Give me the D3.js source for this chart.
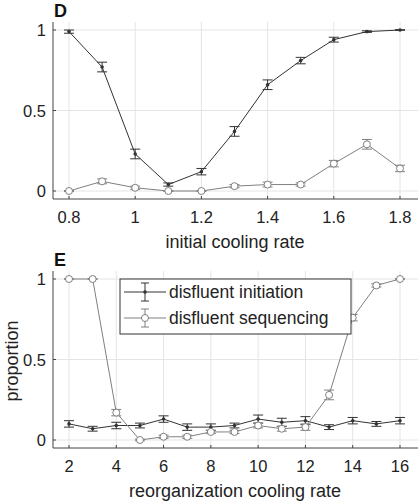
<!DOCTYPE html><html><head><script src="https://cdn.jsdelivr.net/npm/d3@7"></script>
<style>body{margin:0;background:#fff}text{font-family:"Liberation Sans",Arial,sans-serif}</style></head><body>
<svg id="c" width="420" height="502"></svg>
<script>
const xD=[0.8,0.9,1.0,1.1,1.2,1.3,1.4,1.5,1.6,1.7,1.8];
const initD=[0.99,0.77,0.23,0.04,0.12,0.37,0.66,0.81,0.94,0.99,1.0];
const initDErr=[0.01,0.03,0.03,0.01,0.02,0.03,0.03,0.02,0.015,0.005,0.002];
const seqD=[0,0.06,0.02,0,0,0.03,0.04,0.04,0.17,0.29,0.14];
const seqDErr=[0.003,0.015,0.01,0.003,0.003,0.01,0.015,0.01,0.02,0.03,0.02];
const xE=[2,3,4,5,6,7,8,9,10,11,12,13,14,15,16];
const initE=[0.10,0.07,0.09,0.09,0.13,0.08,0.08,0.09,0.13,0.11,0.12,0.08,0.12,0.10,0.12];
const initEErr=[0.02,0.015,0.02,0.015,0.02,0.02,0.02,0.015,0.025,0.025,0.025,0.015,0.02,0.015,0.02];
const seqE=[1,1,0.17,0,0.02,0.02,0.05,0.05,0.09,0.07,0.08,0.28,0.76,0.96,1.0];
const seqEErr=[0.002,0.002,0.02,0.005,0.01,0.01,0.01,0.01,0.015,0.015,0.02,0.03,0.02,0.01,0.002];
const ticksD=[0.8,1,1.2,1.4,1.6,1.8], ticksE=[2,4,6,8,10,12,14,16], yTicks=[0,0.5,1];
const svg=d3.select("#c");
const dark="#333", light="#808080";
function panel(top,label,xs,xdom,ticks,xlabel,series,legend){
  const x=d3.scaleLinear().domain(xdom).range([69,400]);
  const y=d3.scaleLinear().domain([0,1]).range([top+169,top+8]);
  const g=svg.append("g");
  const L=53,R=418,T=top,B=top+177;
  ticks.forEach(t=>g.append("line").attr("x1",x(t)).attr("x2",x(t)).attr("y1",T).attr("y2",B).attr("stroke","#e4e4e4"));
  yTicks.forEach(t=>g.append("line").attr("x1",L).attr("x2",R).attr("y1",y(t)).attr("y2",y(t)).attr("stroke","#e4e4e4"));
  g.append("line").attr("x1",L).attr("x2",L).attr("y1",T).attr("y2",B).attr("stroke","#444");
  g.append("line").attr("x1",L).attr("x2",R).attr("y1",B).attr("y2",B).attr("stroke","#444");
  ticks.forEach(t=>{g.append("line").attr("x1",x(t)).attr("x2",x(t)).attr("y1",B).attr("y2",B-3).attr("stroke","#444");
    g.append("text").attr("x",x(t)).attr("y",B+24).attr("text-anchor","middle").attr("font-size",16.5).attr("fill","#222").text(t);});
  yTicks.forEach(t=>{g.append("line").attr("x1",L).attr("x2",L+3).attr("y1",y(t)).attr("y2",y(t)).attr("stroke","#444");
    g.append("text").attr("x",L-7).attr("y",y(t)+6).attr("text-anchor","end").attr("font-size",16.5).attr("fill","#222").text(t);});
  g.append("text").attr("x",235).attr("y",B+49).attr("text-anchor","middle").attr("font-size",18).attr("fill","#222").text(xlabel);
  g.append("text").attr("x",54).attr("y",top-5).attr("font-size",18).attr("font-weight","bold").attr("fill","#111").text(label);
  series.forEach(s=>{
    const col=s.col;
    g.append("path").attr("d",d3.line().x((d,i)=>x(xs[i])).y(d=>y(d))(s.v)).attr("fill","none").attr("stroke",col).attr("stroke-width",1);
    s.v.forEach((v,i)=>{const cx=x(xs[i]),e=s.e[i];
      g.append("line").attr("x1",cx).attr("x2",cx).attr("y1",y(v-e)).attr("y2",y(v+e)).attr("stroke",col);
      [v-e,v+e].forEach(w=>g.append("line").attr("x1",cx-5).attr("x2",cx+5).attr("y1",y(w)).attr("y2",y(w)).attr("stroke",col));
      if(s.open) g.append("circle").attr("cx",cx).attr("cy",y(v)).attr("r",3.5).attr("fill","#fff").attr("stroke",col);
      else g.append("circle").attr("cx",cx).attr("cy",y(v)).attr("r",1.8).attr("fill",col);
    });
  });
  if(legend){
    g.append("text").attr("x",18).attr("y",top+90).attr("transform",`rotate(-90,18,${top+90})`).attr("text-anchor","middle").attr("font-size",18).attr("fill","#222").text("proportion");
    g.append("rect").attr("x",120).attr("y",top+8).attr("width",231).attr("height",55).attr("fill","#fff").attr("stroke","#333");
    series.forEach((s,i)=>{const ly=top+21+i*26;
      g.append("line").attr("x1",124).attr("x2",166).attr("y1",ly).attr("y2",ly).attr("stroke",s.col);
      g.append("line").attr("x1",145).attr("x2",145).attr("y1",ly-9).attr("y2",ly+9).attr("stroke",s.col);
      [ly-9,ly+9].forEach(w=>g.append("line").attr("x1",141).attr("x2",149).attr("y1",w).attr("y2",w).attr("stroke",s.col));
      if(s.open) g.append("circle").attr("cx",145).attr("cy",ly).attr("r",3.5).attr("fill","#fff").attr("stroke",s.col);
      else g.append("circle").attr("cx",145).attr("cy",ly).attr("r",1.8).attr("fill",s.col);
      g.append("text").attr("x",169).attr("y",ly+6).attr("font-size",17.5).attr("fill","#222").text(s.name);});
  }
}
panel(22,"D",xD,[0.8,1.8],ticksD,"initial cooling rate",[
  {v:initD,e:initDErr,col:dark,open:false,name:"disfluent initiation"},
  {v:seqD,e:seqDErr,col:light,open:true,name:"disfluent sequencing"}],false);
panel(271,"E",xE,[2,16],ticksE,"reorganization cooling rate",[
  {v:initE,e:initEErr,col:dark,open:false,name:"disfluent initiation"},
  {v:seqE,e:seqEErr,col:light,open:true,name:"disfluent sequencing"}],true);
</script></body></html>
